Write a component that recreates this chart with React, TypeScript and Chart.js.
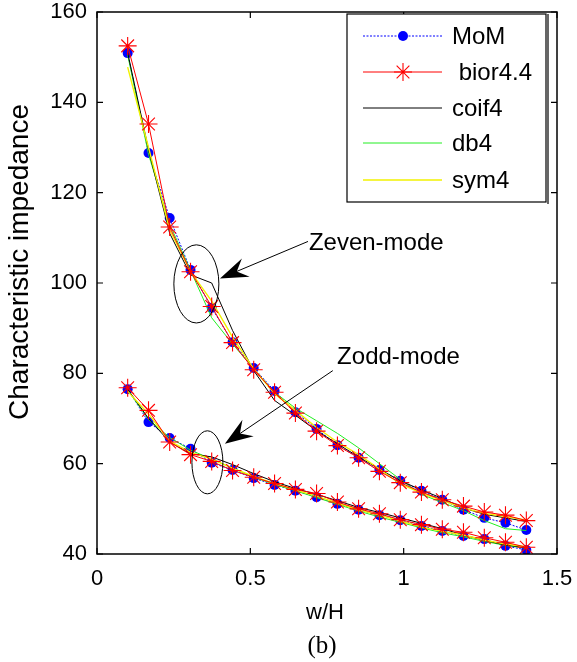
import React, { useEffect, useRef } from "react";
import { Chart, registerables } from "chart.js";

Chart.register(...registerables);

const X_VALUES = [0.1, 0.168, 0.237, 0.305, 0.374, 0.442, 0.511, 0.579, 0.647, 0.716, 0.784, 0.853, 0.921, 0.989, 1.058, 1.126, 1.195, 1.263, 1.332, 1.4];

// Zeven-mode (upper curves)
const EVEN_MOM = [150.9, 128.8, 114.4, 102.9, 94.5, 86.9, 81.2, 76.1, 71.4, 67.7, 64.1, 61.3, 58.6, 56.2, 54.0, 52.0, 49.8, 48.0, 46.9, 45.3];
const EVEN_BIOR = [152.5, 135.2, 112.4, 102.5, 94.8, 86.8, 80.8, 75.8, 71.2, 67.2, 64.0, 61.3, 58.3, 55.8, 53.7, 52.0, 50.6, 49.3, 48.6, 47.4];
const EVEN_COIF = [151.0, 129.5, 111.0, 101.8, 100.0, 89.5, 80.6, 74.0, 70.7, 67.3, 64.4, 61.5, 58.8, 56.2, 54.2, 52.3, 50.2, 48.8, 48.0, 47.2];
const EVEN_DB = [150.5, 128.5, 113.0, 102.8, 92.3, 86.5, 81.0, 75.8, 72.3, 69.5, 66.7, 63.5, 60.0, 56.5, 53.2, 51.4, 49.6, 47.4, 45.6, 45.2];
const EVEN_SYM = [147.8, 130.0, 111.8, 102.5, 96.0, 88.0, 81.0, 75.5, 71.8, 68.0, 64.8, 62.0, 58.8, 55.5, 53.5, 51.8, 50.2, 49.0, 48.3, 47.5];

// Zodd-mode (lower curves)
const ODD_MOM = [76.5, 69.2, 65.7, 63.3, 60.2, 58.6, 56.8, 55.3, 54.0, 52.6, 51.1, 49.8, 48.6, 47.5, 46.2, 45.1, 44.0, 43.3, 41.8, 40.9];
const ODD_BIOR = [76.8, 71.8, 64.8, 62.0, 60.5, 58.5, 57.0, 55.6, 54.3, 53.4, 51.5, 50.0, 48.9, 47.6, 46.5, 45.5, 44.8, 43.6, 42.6, 41.5];
const ODD_COIF = [76.5, 70.0, 64.8, 62.2, 61.5, 59.8, 57.8, 56.0, 54.5, 53.2, 51.8, 50.3, 49.2, 48.0, 46.8, 45.6, 44.2, 43.0, 42.0, 41.4];
const ODD_DB = [76.3, 69.8, 65.8, 63.0, 61.0, 59.0, 57.0, 55.4, 54.0, 52.5, 51.0, 49.5, 48.2, 47.0, 45.8, 44.7, 43.8, 42.8, 41.9, 41.3];
const ODD_SYM = [76.0, 71.0, 65.0, 62.5, 61.0, 59.0, 57.2, 55.6, 54.2, 52.8, 51.3, 49.8, 48.6, 47.3, 46.0, 45.0, 44.2, 43.1, 42.2, 41.6];

const SERIES_NAMES = ["MoM", " bior4.4", "coif4", "db4", "sym4"];
const X_TICKS = [0, 0.5, 1, 1.5];
const Y_TICKS = [40, 60, 80, 100, 120, 140, 160];
const X_TITLE = "w/H";
const Y_TITLE = "Characteristic impedance";
const CAPTION = "(b)";
const EVEN_LABEL = "Zeven-mode";
const ODD_LABEL = "Zodd-mode";

const SANS = "Arial, 'Liberation Sans', Helvetica, sans-serif";
const SERIF = "'Times New Roman', 'Liberation Serif', serif";

const STYLES = [
  { color: "#0000ff", width: 1, dash: [2, 1.5], pointStyle: "circle", radius: 5, order: 4 },
  { color: "#ff0000", width: 1, dash: [], pointStyle: "star", radius: 9, order: 0 },
  { color: "#000000", width: 1, dash: [], pointStyle: "circle", radius: 0, order: 2 },
  { color: "#22ee22", width: 1, dash: [], pointStyle: "circle", radius: 0, order: 3 },
  { color: "#f2f200", width: 1.4, dash: [], pointStyle: "circle", radius: 0, order: 1 },
];

const toPts = (arr: number[]) => X_VALUES.map((x, i) => ({ x, y: arr[i] }));

function makeDataset(idx: number, arr: number[], mode: string) {
  const s = STYLES[idx];
  return {
    label: SERIES_NAMES[idx] + "|" + mode,
    data: toPts(arr),
    borderColor: s.color,
    backgroundColor: s.color,
    borderWidth: s.width,
    borderDash: s.dash,
    pointStyle: s.pointStyle,
    pointRadius: s.radius,
    pointBorderColor: s.color,
    pointBackgroundColor: s.color,
    pointBorderWidth: idx === 1 ? 1.1 : 0,
    tension: 0,
    fill: false,
    order: s.order,
  } as any;
}

function drawMarker(ctx: CanvasRenderingContext2D, x: number, y: number, r: number, star: boolean) {
  if (!star) {
    ctx.beginPath();
    ctx.arc(x, y, r, 0, Math.PI * 2);
    ctx.fill();
    return;
  }
  ctx.beginPath();
  for (let k = 0; k < 4; k++) {
    const a = (k * Math.PI) / 4;
    ctx.moveTo(x + Math.cos(a) * r, y + Math.sin(a) * r);
    ctx.lineTo(x - Math.cos(a) * r, y - Math.sin(a) * r);
  }
  ctx.stroke();
}

const annotationPlugin = {
  id: "annotations",
  afterDraw(chart: any) {
    const ctx = chart.ctx as CanvasRenderingContext2D;
    const xs = chart.scales.x;
    const ys = chart.scales.y;
    const area = chart.chartArea;
    const px = (v: number) => xs.getPixelForValue(v);
    const py = (v: number) => ys.getPixelForValue(v);
    ctx.save();

    // frame
    ctx.strokeStyle = "#000";
    ctx.lineWidth = 1.5;
    ctx.strokeRect(area.left, area.top, area.right - area.left, area.bottom - area.top);
    // inward ticks
    ctx.lineWidth = 1.2;
    const TL = 6;
    ctx.beginPath();
    X_TICKS.forEach((t) => {
      const x = px(t);
      ctx.moveTo(x, area.bottom);
      ctx.lineTo(x, area.bottom - TL);
      ctx.moveTo(x, area.top);
      ctx.lineTo(x, area.top + TL);
    });
    Y_TICKS.forEach((t) => {
      const y = py(t);
      ctx.moveTo(area.left, y);
      ctx.lineTo(area.left + TL, y);
      ctx.moveTo(area.right, y);
      ctx.lineTo(area.right - TL, y);
    });
    ctx.stroke();

    // ellipses
    ctx.lineWidth = 1;
    const ellipse = (cx: number, cy: number, rx: number, ry: number) => {
      const cxp = px(cx);
      const cyp = py(cy);
      const rxp = Math.abs(px(cx + rx) - cxp);
      const ryp = Math.abs(py(cy + ry) - cyp);
      ctx.beginPath();
      ctx.ellipse(cxp, cyp, rxp, ryp, 0, 0, Math.PI * 2);
      ctx.stroke();
    };
    ellipse(0.324, 99.8, 0.0734, 8.65);
    ellipse(0.36, 60.3, 0.0505, 6.98);

    // arrows
    const arrow = (x0: number, y0: number, x1: number, y1: number) => {
      const sx = px(x0), sy = py(y0), tx = px(x1), ty = py(y1);
      const dx = tx - sx, dy = ty - sy;
      const len = Math.hypot(dx, dy);
      const ux = dx / len, uy = dy / len;
      const nx = -uy, ny = ux;
      const L = 28, W = 10;
      ctx.beginPath();
      ctx.moveTo(sx, sy);
      ctx.lineTo(tx - ux * L * 0.6, ty - uy * L * 0.6);
      ctx.stroke();
      ctx.beginPath();
      ctx.moveTo(tx, ty);
      ctx.lineTo(tx - ux * L + nx * W, ty - uy * L + ny * W);
      ctx.lineTo(tx - ux * L * 0.65, ty - uy * L * 0.65);
      ctx.lineTo(tx - ux * L - nx * W, ty - uy * L - ny * W);
      ctx.closePath();
      ctx.fillStyle = "#000";
      ctx.fill();
    };
    arrow(0.688, 109.2, 0.401, 101.0);
    arrow(0.769, 80.6, 0.417, 64.4);

    // mode labels
    ctx.fillStyle = "#000";
    ctx.font = `24px ${SANS}`;
    ctx.textAlign = "left";
    ctx.textBaseline = "middle";
    ctx.fillText(EVEN_LABEL, px(0.691), py(108.8));
    ctx.fillText(ODD_LABEL, px(0.783), py(83.5));

    // legend
    const lx0 = 347, ly0 = 14, lx1 = 546, ly1 = 202;
    ctx.fillStyle = "#fff";
    ctx.fillRect(lx0, ly0, lx1 - lx0, ly1 - ly0);
    ctx.strokeStyle = "#000";
    ctx.lineWidth = 1.2;
    ctx.strokeRect(lx0, ly0, lx1 - lx0, ly1 - ly0);
    ctx.beginPath();
    ctx.moveTo(lx1 + 2, ly0);
    ctx.lineTo(lx1 + 2, ly1 + 2);
    ctx.stroke();
    const rowY = [36, 72, 108, 143, 180];
    SERIES_NAMES.forEach((name, i) => {
      const s = STYLES[i];
      const y = rowY[i];
      ctx.save();
      ctx.strokeStyle = s.color;
      ctx.lineWidth = s.width;
      ctx.setLineDash(s.dash);
      ctx.beginPath();
      ctx.moveTo(363, y);
      ctx.lineTo(442, y);
      ctx.stroke();
      ctx.restore();
      if (s.radius > 0) {
        ctx.save();
        ctx.strokeStyle = s.color;
        ctx.fillStyle = s.color;
        ctx.lineWidth = 1.1;
        drawMarker(ctx, 403, y, s.radius, i === 1);
        ctx.restore();
      }
      ctx.fillStyle = "#000";
      ctx.font = `24px ${SANS}`;
      ctx.textAlign = "left";
      ctx.textBaseline = "middle";
      ctx.fillText(name, 452, y + 1);
    });

    // axis titles
    const cx = (area.left + area.right) / 2;
    ctx.fillStyle = "#000";
    ctx.font = `22px ${SANS}`;
    ctx.textAlign = "center";
    ctx.textBaseline = "alphabetic";
    ctx.fillText(X_TITLE, cx - 2, 619);
    ctx.font = `25px ${SERIF}`;
    ctx.fillText(CAPTION, cx - 5, 653);
    ctx.save();
    ctx.translate(28, 262);
    ctx.rotate(-Math.PI / 2);
    ctx.font = `28px ${SANS}`;
    ctx.fillText(Y_TITLE, 0, 0);
    ctx.restore();

    ctx.restore();
  },
};

export default function App() {
  const ref = useRef<HTMLCanvasElement>(null);
  useEffect(() => {
    if (!ref.current) return;
    const datasets = [
      makeDataset(0, EVEN_MOM, "even"),
      makeDataset(1, EVEN_BIOR, "even"),
      makeDataset(2, EVEN_COIF, "even"),
      makeDataset(3, EVEN_DB, "even"),
      makeDataset(4, EVEN_SYM, "even"),
      makeDataset(0, ODD_MOM, "odd"),
      makeDataset(1, ODD_BIOR, "odd"),
      makeDataset(2, ODD_COIF, "odd"),
      makeDataset(3, ODD_DB, "odd"),
      makeDataset(4, ODD_SYM, "odd"),
    ];
    const chart = new Chart(ref.current, {
      type: "line",
      data: { datasets },
      options: {
        responsive: false,
        animation: false,
        devicePixelRatio: 1,
        layout: { padding: { left: 0, top: 12, right: 20, bottom: 0 } },
        plugins: { legend: { display: false }, tooltip: { enabled: false } },
        scales: {
          x: {
            type: "linear",
            min: 0,
            max: 1.5,
            afterBuildTicks: (s: any) => {
              s.ticks = X_TICKS.map((v) => ({ value: v }));
            },
            ticks: {
              font: { size: 22, family: SANS },
              color: "#000",
              padding: 12,
              maxRotation: 0,
              callback: (v: any) => String(v),
            },
            grid: { display: false, drawTicks: false },
            border: { display: false },
            afterFit: (s: any) => {
              s.height = 108;
              s.paddingLeft = 0;
              s.paddingRight = 0;
            },
          },
          y: {
            type: "linear",
            min: 40,
            max: 160,
            afterBuildTicks: (s: any) => {
              s.ticks = Y_TICKS.map((v) => ({ value: v }));
            },
            ticks: {
              font: { size: 22, family: SANS },
              color: "#000",
              padding: 10,
              callback: (v: any) => String(v),
            },
            grid: { display: false, drawTicks: false },
            border: { display: false },
            afterFit: (s: any) => {
              s.width = 97;
              s.paddingTop = 0;
              s.paddingBottom = 0;
            },
          },
        },
      } as any,
      plugins: [annotationPlugin],
    });
    return () => chart.destroy();
  }, []);
  return (
    <div style={{ position: "absolute", left: 0, top: 0, width: 577, height: 662, background: "#fff" }}>
      <canvas ref={ref} width={577} height={662} style={{ display: "block", width: 577, height: 662 }} />
    </div>
  );
}
